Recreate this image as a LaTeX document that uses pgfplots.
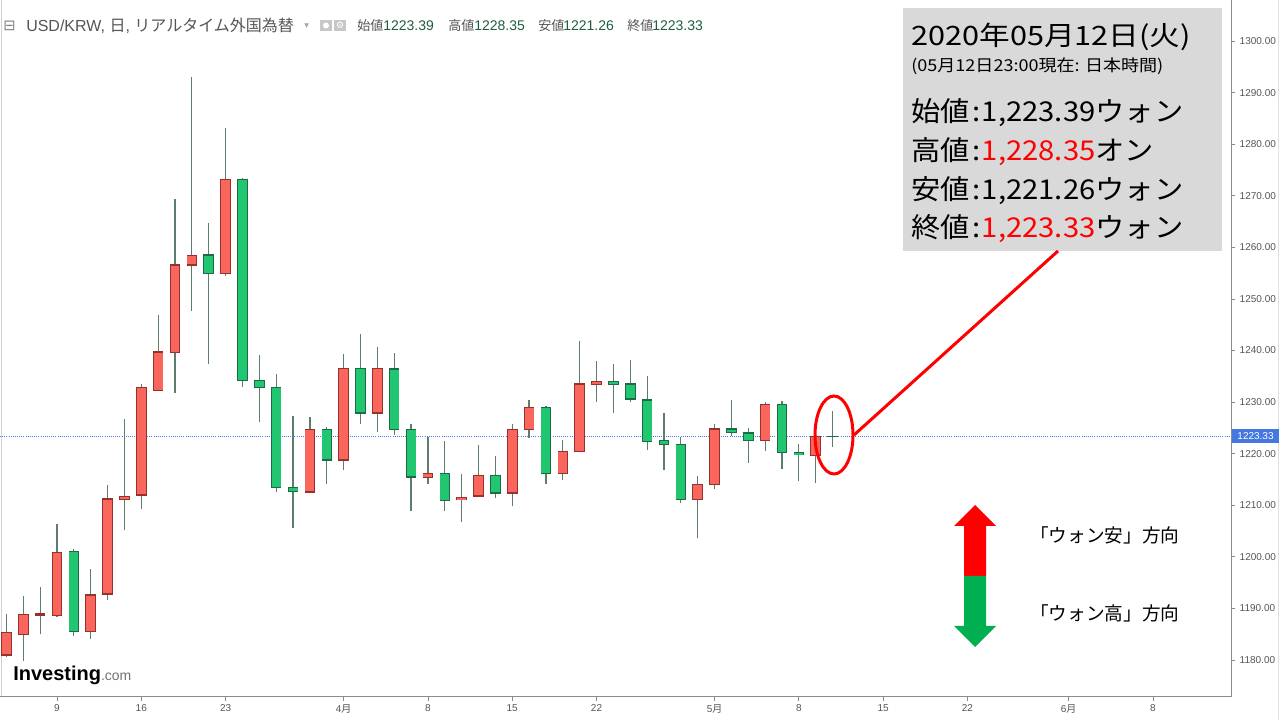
\documentclass[border=0pt]{standalone}
\usepackage{fontspec}
\usepackage{pgfplots}
\pgfplotsset{compat=1.18}
\usepackage{pgfplotstable}
\setmainfont{Liberation Sans}
\newfontfamily\jp{Noto Sans CJK JP}
\newfontfamily\jpt[FakeStretch=1.15]{Noto Sans CJK JP}
\newfontfamily\jps[FakeStretch=1.10]{Noto Sans CJK JP}
\newfontfamily\jpl[FakeStretch=1.07]{Noto Sans CJK JP}
\newfontfamily\dv{DejaVu Sans}
\definecolor{upfill}{RGB}{250,102,92}
\definecolor{upline}{RGB}{150,50,45}
\definecolor{dnfill}{RGB}{32,198,112}
\definecolor{dnline}{RGB}{30,105,70}
\definecolor{wick}{RGB}{95,125,110}
\definecolor{axgray}{RGB}{140,140,140}
\definecolor{txtgray}{RGB}{85,85,85}
\definecolor{hdrgreen}{RGB}{30,95,60}
\definecolor{pricebl}{RGB}{70,120,225}
\definecolor{boxgray}{RGB}{217,217,217}
\definecolor{arrred}{RGB}{255,0,0}
\definecolor{arrgreen}{RGB}{0,176,80}

% i = trading-day index (0 = 9 March 2020)
\pgfplotstableread{
i o h l c
-3 1181.0 1189.0 1180.5 1185.3
-2 1184.9 1192.4 1179.9 1188.8
-1 1188.7 1194.2 1185.0 1188.9
0 1188.6 1206.4 1188.4 1200.8
2 1185.5 1197.6 1184.0 1192.6
3 1192.8 1214.0 1191.6 1211.2
4 1211.1 1226.8 1205.2 1211.7
5 1212.0 1233.6 1209.3 1232.9
6 1232.3 1246.9 1232.1 1239.7
7 1239.6 1269.3 1231.7 1256.6
8 1256.6 1293.1 1247.6 1258.5
10 1254.9 1283.1 1254.5 1273.2
15 1212.6 1227.1 1212.3 1224.7
17 1218.8 1239.4 1216.9 1236.6
19 1227.9 1240.7 1224.2 1236.6
22 1215.4 1223.3 1214.1 1216.2
24 1211.1 1216.0 1206.8 1211.5
25 1211.8 1221.7 1211.6 1215.8
27 1212.4 1225.8 1209.8 1224.7
28 1224.7 1230.5 1223.1 1228.9
30 1216.2 1222.6 1214.9 1220.5
31 1220.5 1241.8 1220.3 1233.5
32 1233.5 1237.9 1230.1 1234.0
38 1211.1 1215.6 1203.6 1214.0
39 1214.0 1225.8 1213.2 1224.8
42 1222.6 1230.0 1220.6 1229.5
45 1219.6 1223.4 1214.3 1223.33
}\upcandles
\pgfplotstableread{
i o h l c
1 1201.0 1201.5 1184.6 1185.5
9 1258.5 1264.7 1237.4 1254.9
11 1273.2 1273.4 1233.0 1234.2
12 1234.2 1239.2 1226.2 1232.9
13 1232.9 1235.4 1212.6 1213.4
14 1213.4 1227.3 1205.5 1212.6
16 1224.7 1225.2 1214.2 1218.8
18 1236.6 1243.3 1225.7 1227.9
20 1236.4 1239.5 1223.7 1224.7
21 1224.7 1225.7 1208.8 1215.5
23 1216.2 1222.4 1208.8 1210.9
26 1215.8 1219.5 1211.5 1212.4
29 1228.9 1229.3 1214.1 1216.2
33 1234.0 1237.3 1227.8 1233.5
34 1233.5 1238.2 1230.1 1230.6
35 1230.4 1235.0 1220.8 1222.4
36 1222.6 1227.9 1216.9 1221.8
37 1221.8 1223.3 1210.5 1211.1
40 1224.8 1230.5 1223.4 1224.1
41 1224.0 1224.9 1218.2 1222.6
43 1229.5 1230.2 1217.1 1220.2
44 1220.2 1221.8 1214.7 1219.8
46 1223.39 1228.35 1221.26 1223.33
}\downcandles

\pgfplotsset{
  wickstyle/.style={draw=none, mark=none, forget plot,
    error bars/.cd, y dir=plus, y explicit, error mark=none,
    error bar style={draw=wick, line width=0.9pt, solid}},
  bodystyle/.style 2 args={draw=none, mark=none, forget plot,
    error bars/.cd, y dir=both, y explicit, error mark=none,
    error bar style={draw=#1, line width=#2, solid}},
}

\begin{document}
\begin{tikzpicture}[x=0.75pt,y=0.75pt]
\useasboundingbox (0,0) rectangle (1280,720);
\fill[white] (0,0) rectangle (1280,720);
% light frame lines
\draw[black!18, line width=0.75pt] (1.5,23) -- (1.5,720);
\draw[black!12, line width=0.75pt] (1278.5,0) -- (1278.5,720);
\begin{axis}[
  at={(0pt,17.25pt)}, anchor=south west, scale only axis,
  width=923.25pt, height=522.75pt,
  xmin=-3.38, xmax=69.63, ymin=1172.83, ymax=1307.96,
  axis x line*=bottom, axis y line*=right,
  x axis line style={-, draw=axgray, line width=0.75pt},
  y axis line style={-, draw=axgray, line width=0.75pt},
  xtick={0,5,10,17,22,27,32,39,44,49,54,60,65},
  xticklabels={9,16,23,4{\jp 月},8,15,22,5{\jp 月},8,15,22,6{\jp 月},8},
  ytick={1180,1190,...,1300},
  tick align=outside, major tick length=3pt,
  tick style={draw=axgray, line width=0.6pt},
  tick label style={font=\fontsize{7.5pt}{9pt}\selectfont, text=txtgray},
  /pgf/number format/assume math mode=true,
  yticklabel style={/pgf/number format/.cd, fixed, fixed zerofill, precision=2, 1000 sep={}},
  xticklabel style={yshift=1pt},
]
\addplot[draw=pricebl, densely dotted, line width=0.6pt, forget plot] coordinates {(-3.38,1223.33) (69.63,1223.33)};
% wicks
\addplot[wickstyle] table[x=i, y=l, y error expr=\thisrow{h}-\thisrow{l}] {\upcandles};
\addplot[wickstyle] table[x=i, y=l, y error expr=\thisrow{h}-\thisrow{l}] {\downcandles};
% bodies: border then fill
\addplot[bodystyle={upline}{7.9pt}] table[x=i, y expr={(\thisrow{o}+\thisrow{c})/2}, y error expr={abs(\thisrow{c}-\thisrow{o})/2+0.12}] {\upcandles};
\addplot[bodystyle={upfill}{6.7pt}] table[x=i, y expr={(\thisrow{o}+\thisrow{c})/2}, y error expr={max(abs(\thisrow{c}-\thisrow{o})/2-0.12,0)}] {\upcandles};
\addplot[bodystyle={dnline}{7.9pt}] table[x=i, y expr={(\thisrow{o}+\thisrow{c})/2}, y error expr={abs(\thisrow{c}-\thisrow{o})/2+0.12}] {\downcandles};
\addplot[bodystyle={dnfill}{6.7pt}] table[x=i, y expr={(\thisrow{o}+\thisrow{c})/2}, y error expr={max(abs(\thisrow{c}-\thisrow{o})/2-0.12,0)}] {\downcandles};
\end{axis}

% current price label
\fill[pricebl] (1232,277) rectangle (1279,291);
\node[text=white, inner sep=0pt, font=\fontsize{7.5pt}{9pt}\selectfont] at (1255.5,284) {1223.33};

% header
\node[anchor=west, inner sep=0pt, text=black!50, font=\dv\fontsize{11pt}{12pt}\selectfont] at (3,694) {⊟};
\node[anchor=west, inner sep=0pt, text=txtgray, font=\fontsize{12pt}{14pt}\selectfont] at (26,694) {USD/KRW, {\jp 日}, {\jp リアルタイム外国為替}};
\node[anchor=west, inner sep=0pt, text=black!35, font=\dv\fontsize{7pt}{8pt}\selectfont] at (304,694) {▾};
\fill[black!22] (320,689) rectangle (332,700);
\fill[white] (326,694.5) circle[radius=2.25pt];
\fill[black!22] (334,689) rectangle (346,700);
\node[text=white, inner sep=0pt, font=\dv\fontsize{7pt}{8pt}\selectfont] at (340,694.5) {⚙};
\node[anchor=west, inner sep=0pt, text=txtgray, font=\jp\fontsize{9.8pt}{11pt}\selectfont] at (357,694) {始値};
\node[anchor=west, inner sep=0pt, text=hdrgreen, font=\fontsize{10.5pt}{12pt}\selectfont] at (383,694) {1223.39};
\node[anchor=west, inner sep=0pt, text=txtgray, font=\jp\fontsize{9.8pt}{11pt}\selectfont] at (448,694) {高値};
\node[anchor=west, inner sep=0pt, text=hdrgreen, font=\fontsize{10.5pt}{12pt}\selectfont] at (474,694) {1228.35};
\node[anchor=west, inner sep=0pt, text=txtgray, font=\jp\fontsize{9.8pt}{11pt}\selectfont] at (538,694) {安値};
\node[anchor=west, inner sep=0pt, text=hdrgreen, font=\fontsize{10.5pt}{12pt}\selectfont] at (563,694) {1221.26};
\node[anchor=west, inner sep=0pt, text=txtgray, font=\jp\fontsize{9.8pt}{11pt}\selectfont] at (627,694) {終値};
\node[anchor=west, inner sep=0pt, text=hdrgreen, font=\fontsize{10.5pt}{12pt}\selectfont] at (652,694) {1223.33};

% Investing.com logo
\node[anchor=west, inner sep=0pt] at (13,45) {\fontsize{15pt}{15pt}\selectfont\bfseries Investing{\color{black!55}\mdseries\fontsize{10.5pt}{10.5pt}\selectfont .com}};

% info box
\fill[boxgray] (903,469) rectangle (1222,712);
\node[anchor=west, inner sep=0pt, font=\jpt\fontsize{20pt}{22pt}\selectfont] at (911,683) {2020年05月12日(火)};
\node[anchor=west, inner sep=0pt, font=\jps\fontsize{12.3pt}{14pt}\selectfont] at (911,654) {(05月12日23:00現在: 日本時間)};
\node[anchor=west, inner sep=0pt, font=\jpl\fontsize{20.5pt}{22pt}\selectfont] at (911,607) {始値\kern2pt:\kern1pt1,223.39ウォン};
\node[anchor=west, inner sep=0pt, font=\jpl\fontsize{20.5pt}{22pt}\selectfont] at (911,568) {高値\kern2pt:\kern1pt{\color{arrred}1,228.35}オン};
\node[anchor=west, inner sep=0pt, font=\jpl\fontsize{20.5pt}{22pt}\selectfont] at (911,529) {安値\kern2pt:\kern1pt1,221.26ウォン};
\node[anchor=west, inner sep=0pt, font=\jpl\fontsize{20.5pt}{22pt}\selectfont] at (911,491) {終値\kern2pt:\kern1pt{\color{arrred}1,223.33}ウォン};

% callout
\draw[arrred, line width=2.25pt] (854,285) -- (1058,469);
\draw[arrred, line width=2.25pt] (834,285) ellipse [x radius=14.25pt, y radius=29.25pt];

% direction arrow
\fill[arrred] (975,215) -- (996,194) -- (986,194) -- (986,144) -- (964,144) -- (964,194) -- (954,194) -- cycle;
\fill[arrgreen] (964,144) -- (986,144) -- (986,94) -- (996,94) -- (975,73) -- (954,94) -- (964,94) -- cycle;
\node[anchor=west, inner sep=0pt, font=\jp\fontsize{14pt}{16pt}\selectfont] at (1030,185) {「ウォン安」方向};
\node[anchor=west, inner sep=0pt, font=\jp\fontsize{14pt}{16pt}\selectfont] at (1030,107) {「ウォン高」方向};
\end{tikzpicture}
\end{document}
